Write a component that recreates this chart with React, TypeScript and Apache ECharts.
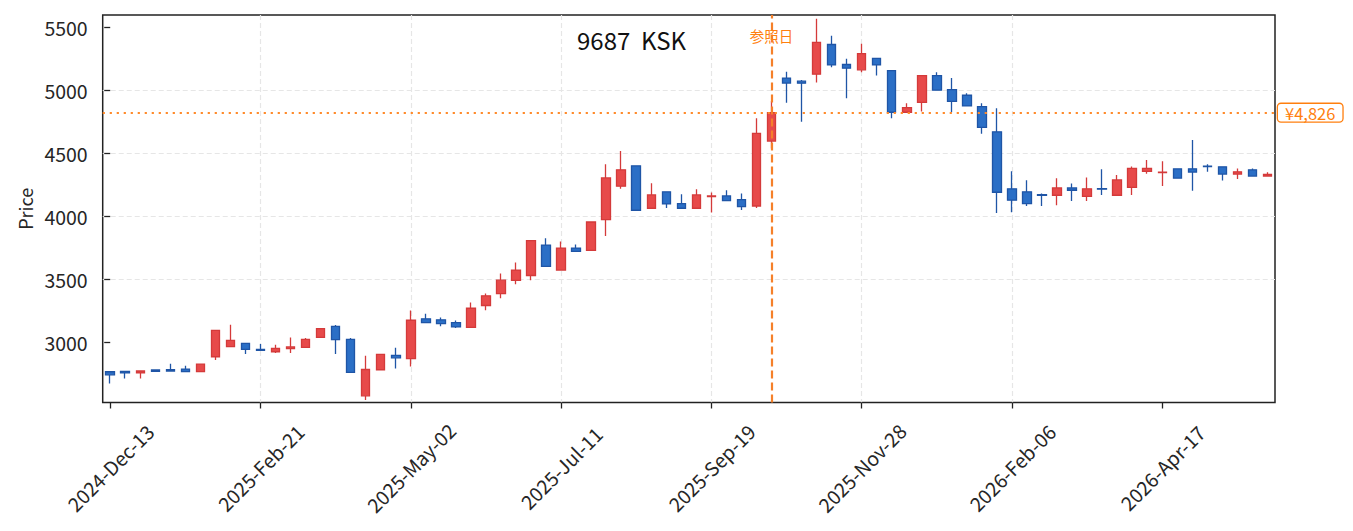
import React, { useEffect, useRef } from "react";
import * as echarts from "echarts";

// Weekly candles (index 0 = 2024-Dec-13, one per week)
const tickIndex = [0, 10, 20, 30, 40, 50, 60, 70];
const tickLabels = [
  "2024-Dec-13",
  "2025-Feb-21",
  "2025-May-02",
  "2025-Jul-11",
  "2025-Sep-19",
  "2025-Nov-28",
  "2026-Feb-06",
  "2026-Apr-17",
];
const yTicks = [3000, 3500, 4000, 4500, 5000, 5500];

const opens = [
  2769, 2772, 2760, 2783, 2785, 2790, 2770, 2888, 2968, 2994,
  2947, 2928, 2952, 2963, 3042, 3130, 3026, 2578, 2785, 2899,
  2873, 3189, 3181, 3159, 3122, 3295, 3390, 3494, 3533, 3775,
  3576, 3751, 3732, 3977, 4242, 4404, 4067, 4197, 4104, 4067,
  4160, 4165, 4136, 4085, 4600, 5100, 5076, 5131, 5367, 5208,
  5166, 5256, 5160, 4829, 4908, 5120, 5009, 4964, 4873, 4674,
  4221, 4197, 4175, 4170, 4228, 4162, 4222, 4170, 4232, 4359,
  4350, 4380, 4380, 4402, 4396, 4338, 4372, 4322,
];
const closes = [
  2745, 2760, 2775, 2772, 2775, 2770, 2830, 3098, 3018, 2947,
  2939, 2955, 2966, 3026, 3111, 3024, 2764, 2787, 2907, 2880,
  3178, 3159, 3151, 3125, 3273, 3372, 3496, 3576, 3810, 3605,
  3751, 3724, 3958, 4308, 4372, 4051, 4173, 4101, 4067, 4173,
  4165, 4128, 4080, 4662, 4826, 5061, 5060, 5383, 5205, 5179,
  5295, 5205, 4829, 4865, 5120, 5004, 4916, 4879, 4709, 4194,
  4131, 4104, 4170, 4228, 4210, 4221, 4218, 4292, 4383, 4383,
  4354, 4306, 4354, 4398, 4338, 4356, 4322, 4335,
];
const lows = [
  2676, 2716, 2716, 2772, 2775, 2770, 2770, 2862, 2968, 2910,
  2939, 2918, 2918, 2963, 3042, 2910, 2764, 2544, 2785, 2795,
  2811, 3159, 3130, 3117, 3117, 3257, 3353, 3464, 3496, 3605,
  3576, 3724, 3732, 3846, 4221, 4051, 4067, 4069, 4067, 4067,
  4033, 4128, 4053, 4069, 4542, 4905, 4754, 5065, 5187, 4940,
  5147, 5120, 4781, 4829, 4834, 5004, 4829, 4879, 4658, 4029,
  4035, 4085, 4085, 4091, 4125, 4125, 4173, 4170, 4173, 4340,
  4244, 4306, 4205, 4356, 4287, 4300, 4322, 4322,
];
const highs = [
  2769, 2775, 2775, 2783, 2833, 2817, 2830, 3098, 3143, 2994,
  2990, 2984, 3040, 3037, 3111, 3141, 3037, 2897, 2907, 2960,
  3255, 3229, 3199, 3175, 3318, 3390, 3549, 3637, 3810, 3828,
  3804, 3780, 3958, 4417, 4521, 4404, 4266, 4197, 4178, 4218,
  4192, 4210, 4184, 4781, 4919, 5150, 5086, 5572, 5436, 5253,
  5373, 5256, 5160, 4900, 5120, 5147, 5100, 4980, 4900, 4861,
  4361, 4290, 4184, 4306, 4264, 4311, 4377, 4330, 4399, 4449,
  4441, 4380, 4608, 4417, 4396, 4383, 4383, 4353,
];

const refIndex = 44;
const refPrice = 4826;
const refLabel = "参照日";
const titleText = "9687  KSK";
const yName = "Price";

const FONT = "'Noto Sans CJK JP', 'Noto Sans', sans-serif";
const ORANGE = "#ff7f0e";
const INK = "#262626";

export default function App() {
  const ref = useRef<HTMLDivElement>(null);

  useEffect(() => {
    document.body.style.margin = "0";
    const chart = echarts.init(ref.current!, null, { renderer: "svg" });
    const data = opens.map((o, i) => [i, o, closes[i], lows[i], highs[i]]);

    chart.setOption({
      animation: false,
      textStyle: { fontFamily: FONT },
      grid: {
        left: 102.7,
        right: 78,
        top: 15,
        bottom: 128.5,
        show: true,
        borderColor: "#222222",
        borderWidth: 1.5,
        backgroundColor: "transparent",
        containLabel: false,
        outerBoundsMode: "none",
      },
      xAxis: {
        type: "value",
        min: -0.5,
        max: 77.5,
        splitNumber: 8,
        minInterval: 10,
        maxInterval: 10,
        axisLine: { show: false },
        axisTick: {
          show: true,
          length: 6,
          customValues: tickIndex,
          lineStyle: { color: "#222222", width: 1.3 },
        },
        axisLabel: {
          customValues: tickIndex,
          rotate: 45,
          align: "center",
          verticalAlign: "middle",
          margin: 65,
          fontSize: 19.5,
          color: INK,
          fontFamily: FONT,
          formatter: (v: number) => {
            const k = tickIndex.indexOf(Math.round(v));
            return k >= 0 ? tickLabels[k] : "";
          },
        },
        splitLine: {
          show: true,
          showMinLine: false,
          showMaxLine: false,
          lineStyle: { color: "#e6e6e6", type: [5, 3], width: 1.2 },
        },
      },
      yAxis: {
        type: "value",
        min: 2525,
        max: 5601,
        splitNumber: 6,
        minInterval: 500,
        maxInterval: 500,
        scale: true,
        name: yName,
        nameLocation: "middle",
        nameGap: 64,
        nameTextStyle: { fontSize: 18, color: INK, fontFamily: FONT },
        axisLine: { show: false },
        axisTick: {
          show: true,
          length: 6,
          customValues: yTicks,
          lineStyle: { color: "#222222", width: 1.3 },
        },
        axisLabel: {
          customValues: yTicks,
          margin: 15,
          fontSize: 19.5,
          color: INK,
          fontFamily: FONT,
          formatter: (v: number) => String(v),
        },
        splitLine: {
          show: true,
          showMinLine: false,
          showMaxLine: false,
          lineStyle: { color: "#e6e6e6", type: [5, 3], width: 1.2 },
        },
      },
      series: [
        {
          type: "candlestick",
          data,
          barWidth: 9,
          itemStyle: {
            color: "#e74a4a",
            color0: "#2b6fc6",
            borderColor: "#d43a3a",
            borderColor0: "#1f55a6",
            borderWidth: 1.3,
          },
          markLine: {
            silent: true,
            symbol: "none",
            animation: false,
            data: [
              {
                xAxis: refIndex,
                lineStyle: { color: "#f5802a", type: [8, 4], width: 2.2 },
                label: { show: false },
              },
              {
                yAxis: refPrice,
                lineStyle: { color: "#ff8a2a", type: [2.2, 4.8], width: 2.2, opacity: 1 },
                label: {
                  show: true,
                  position: "end",
                  distance: 3,
                  formatter: "¥" + refPrice.toLocaleString("en-US"),
                  color: ORANGE,
                  fontSize: 16.5,
                  fontFamily: FONT,
                  backgroundColor: "#ffffff",
                  borderColor: ORANGE,
                  borderWidth: 1.3,
                  borderRadius: 3,
                  padding: [1, 7, 0, 7],
                },
              },
            ],
          },
        },
      ],
    });

    const px = chart.convertToPixel({ gridIndex: 0 }, [refIndex, refPrice]) as number[];
    chart.setOption({
      graphic: [
        {
          type: "text",
          x: 577,
          y: 39.5,
          style: {
            text: titleText,
            fontSize: 24,
            fontFamily: FONT,
            fill: "#111111",
            verticalAlign: "middle",
            align: "left",
          },
        },
        {
          type: "text",
          x: px[0],
          y: 35,
          style: {
            text: refLabel,
            fontSize: 14.5,
            fontFamily: FONT,
            fill: ORANGE,
            align: "center",
            verticalAlign: "middle",
          },
        },
      ],
    });

    return () => chart.dispose();
  }, []);

  return (
    <>
      <style>{"svg text { white-space: pre; }"}</style>
      <div ref={ref} style={{ width: 1353, height: 531 }} />
    </>
  );
}
